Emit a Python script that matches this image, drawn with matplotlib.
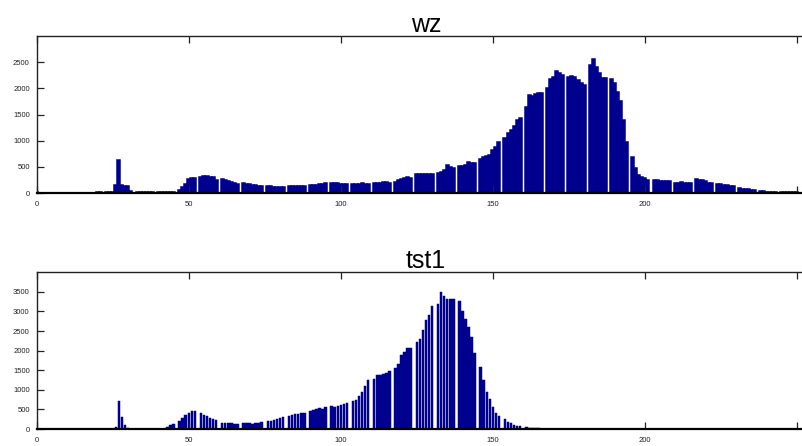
import numpy as np
import matplotlib
matplotlib.use("Agg")
import matplotlib.pyplot as plt

plt.rcParams['font.family'] = ['Liberation Sans', 'DejaVu Sans']

# ---- data: 256-bin histograms (bins 0..255) ----
wz_counts = [
    25, 0, 0, 0, 0, 0, 0, 0, 0, 0,                      # 0-9
    0, 0, 0, 0, 0, 0, 0, 0, 0, 0,                       # 10-19
    10, 15, 5, 10, 20, 25, 160, 640, 150, 135,          # 20-29
    140, 45, 0, 10, 15, 12, 15, 15, 12, 0,              # 30-39
    15, 18, 18, 18, 18, 20, 0, 60, 110, 180,            # 40-49
    260, 285, 290, 0, 310, 325, 320, 310, 300, 255,     # 50-59
    0, 262, 250, 230, 210, 200, 170, 0, 198, 180,       # 60-69
    165, 160, 150, 140, 125, 0, 130, 128, 120, 118,     # 70-79
    112, 110, 0, 125, 135, 138, 140, 140, 138, 0,       # 80-89
    150, 155, 160, 170, 180, 192, 0, 195, 185, 182,     # 90-99
    180, 178, 180, 0, 178, 180, 175, 182, 180, 178,     # 100-109
    0, 190, 195, 200, 205, 210, 200, 0, 210, 240,       # 110-119
    265, 285, 300, 295, 0, 355, 360, 365, 360, 370,     # 120-129
    372, 0, 385, 400, 440, 530, 490, 480, 0, 520,       # 130-139
    515, 540, 600, 580, 575, 0, 645, 690, 710, 722,     # 140-149
    820, 880, 978, 0, 1042, 1150, 1201, 1278, 1393, 1438,   # 150-159
    0, 1640, 1880, 1850, 1900, 1910, 1920, 0, 2010, 2175,   # 160-169
    2220, 2330, 2290, 2256, 0, 2224, 2243, 2220, 2160, 2110, # 170-179
    2060, 0, 2440, 2556, 2400, 2300, 2200, 2190, 0, 2170,   # 180-189
    2100, 1936, 1760, 1400, 980, 0, 690, 480, 350, 300,     # 190-199
    280, 255, 0, 243, 240, 235, 224, 230, 235, 0,           # 200-209
    200, 200, 205, 200, 190, 185, 0, 270, 255, 245,         # 210-219
    230, 200, 195, 0, 179, 175, 150, 147, 140, 134,         # 220-229
    0, 90, 85, 83, 80, 60, 51, 0, 45, 35,                   # 230-239
    26, 20, 18, 15, 0, 15, 12, 18, 10, 15,                  # 240-249
    12, 0, 8, 5, 5, 3,                                      # 250-255
]

tst1_counts = [
    0, 0, 0, 0, 0, 0, 0, 0, 0, 0,                       # 0-9
    0, 0, 0, 0, 0, 0, 0, 0, 0, 0,                       # 10-19
    8, 0, 0, 0, 5, 10, 60, 720, 300, 100,               # 20-29
    15, 5, 0, 3, 3, 3, 3, 3, 3, 0,                      # 30-39
    5, 5, 5, 60, 90, 127, 0, 200, 280, 370,             # 40-49
    420, 455, 465, 0, 420, 370, 340, 290, 265, 230,     # 50-59
    0, 155, 165, 165, 150, 140, 125, 0, 145, 150,       # 60-69
    165, 140, 155, 165, 175, 0, 195, 215, 230, 260,     # 70-79
    290, 310, 0, 335, 360, 375, 385, 400, 415, 0,       # 80-89
    470, 485, 500, 530, 510, 565, 0, 585, 570, 595,     # 90-99
    625, 645, 655, 0, 720, 740, 845, 940, 1100, 1240,   # 100-109
    0, 1265, 1380, 1390, 1400, 1420, 1475, 0, 1560, 1650,   # 110-119
    1900, 1970, 2075, 2075, 0, 2220, 2310, 2520, 2790, 2920, # 120-129
    3140, 0, 3200, 3490, 3400, 3330, 3320, 3320, 0, 3270,   # 130-139
    3020, 2800, 2600, 2350, 1950, 0, 1590, 1250, 950, 760,  # 140-149
    560, 420, 340, 0, 250, 190, 145, 110, 85, 65,           # 150-159
    0, 45, 35, 25, 20, 15, 10, 0, 8, 6,                     # 160-169
    5, 4, 3, 2, 0, 0, 0, 0, 0, 0,                           # 170-179
] + [0] * 76

titles = ["wz", "tst1"]
x_ticks = [0, 50, 100, 150, 200, 250]
x_ticklabels = ["0", "50", "100", "150", "200", ""]
wz_yticks = [0, 500, 1000, 1500, 2000, 2500]
tst1_yticks = [0, 500, 1000, 1500, 2000, 2500, 3000, 3500]

bins = np.arange(256)
bar_color = "#00008F"

fig = plt.figure(figsize=(8.02, 4.46), dpi=100)
W, H = 802.0, 446.0
left_px = 36.7
px_per_unit = 3.041
xmax = 256
width_frac = xmax * px_per_unit / W

ax1 = fig.add_axes([left_px / W, (H - 193) / H, width_frac, 157 / H])
ax2 = fig.add_axes([left_px / W, (H - 429) / H, width_frac, 156.7 / H])

ax1.bar(bins, wz_counts, width=1.0, color=bar_color, edgecolor=bar_color,
        linewidth=1.1, align="center")
ax2.bar(bins, tst1_counts, width=0.82, color=bar_color, edgecolor=bar_color,
        linewidth=0.35, align="center")

for ax, title, yt, ymax in [(ax1, titles[0], wz_yticks, 3000),
                            (ax2, titles[1], tst1_yticks, 4000)]:
    ax.set_xlim(0, xmax)
    ax.set_ylim(0, ymax)
    ax.set_xticks(x_ticks)
    ax.set_xticklabels(x_ticklabels)
    ax.set_yticks(yt)
    ax.set_yticklabels([str(v) for v in yt])
    ax.tick_params(direction="in", length=5, width=0.9, top=True, right=True,
                   labelsize=5.5, colors="#222222", pad=6)
    ax.tick_params(axis="y", pad=5)
    for s in ax.spines.values():
        s.set_linewidth(1.0)
        s.set_color("#222222")
    ax.spines["bottom"].set_linewidth(1.6)
    ax.spines["bottom"].set_color("black")
    ax.set_title(title, fontsize=18, pad=3)

fig.savefig("out.png", dpi=100)
